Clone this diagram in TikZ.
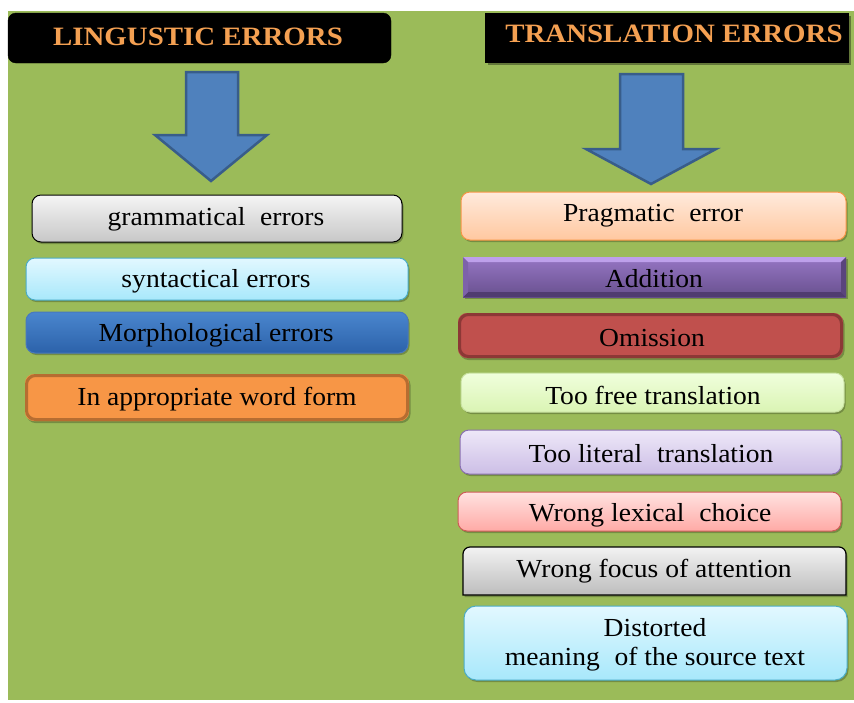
\documentclass[tikz,border=0pt]{standalone}
\usepackage{fontspec}
\setmainfont{Liberation Serif}
\newfontfamily\boxfont[FakeStretch=1.06]{Liberation Serif}
\newfontfamily\hdrfont[FakeStretch=1.09]{Liberation Serif}
\usetikzlibrary{shadows,shapes.arrows}
\definecolor{bggreen}{HTML}{9BBB59}
\definecolor{hdrorange}{HTML}{F4A052}
\definecolor{arrowfill}{HTML}{4F81BD}
\definecolor{arrowline}{HTML}{385D8A}
\definecolor{morphtop}{RGB}{74,134,206}
\definecolor{morphbot}{RGB}{44,98,170}
\definecolor{morphline}{RGB}{72,120,190}
\definecolor{orfill}{RGB}{247,150,70}
\definecolor{orline}{RGB}{182,109,49}
\definecolor{pragtop}{RGB}{255,234,220}
\definecolor{pragbot}{RGB}{255,200,160}
\definecolor{addtop}{RGB}{150,118,196}
\definecolor{addbot}{RGB}{104,80,142}
\definecolor{addhi}{RGB}{190,160,235}
\definecolor{addlo}{RGB}{80,60,112}
\definecolor{addl}{RGB}{125,98,170}
\definecolor{addr}{RGB}{90,68,125}
\definecolor{omfill}{RGB}{192,80,77}
\definecolor{omline}{RGB}{140,56,54}
\definecolor{freetop}{RGB}{240,255,220}
\definecolor{freebot}{RGB}{218,244,180}
\definecolor{freeline}{RGB}{200,225,160}
\definecolor{littop}{RGB}{238,232,248}
\definecolor{litbot}{RGB}{204,190,230}
\definecolor{litline}{RGB}{138,112,176}
\definecolor{lextop}{RGB}{255,226,224}
\definecolor{lexbot}{RGB}{255,170,166}
\definecolor{lexline}{RGB}{205,92,88}
\definecolor{cyantop}{RGB}{226,248,255}
\definecolor{cyanbot}{RGB}{168,232,251}
\definecolor{cyanline}{RGB}{75,172,198}
\tikzset{
  x=1pt, y=-1pt,
  hdrbox/.style={fill=black, draw=black},
  hdrtext/.style={font=\hdrfont\fontsize{26.5}{28}\selectfont\bfseries, text=hdrorange, inner sep=0pt},
  bigarrow/.style={fill=arrowfill, draw=arrowline, line width=2.5pt, line join=miter},
  softshadow/.style={drop shadow={shadow xshift=1.5pt, shadow yshift=-2pt, opacity=0.35, fill=black!70!bggreen}},
  errbox/.style={rounded corners=9pt, line width=1pt, softshadow},
  errtext/.style={font=\boxfont\fontsize{26}{29}\selectfont, inner sep=0pt, align=center, text=black},
}
\begin{document}
\begin{tikzpicture}
\useasboundingbox (0,0) rectangle (854,702);
\fill[white] (0,0) rectangle (854,702);
\fill[bggreen] (8,11) rectangle (854,700);

% headers
\fill[hdrbox, rounded corners=8pt] (8,13) rectangle (391,63);
\node[hdrtext] (h1) at (198,37) {LINGUSTIC ERRORS};
\fill[black!60!bggreen, opacity=0.6] (488,16) rectangle (851,65);
\fill[hdrbox] (485,13) rectangle (848,62);
\node[hdrtext] (h2) at (674,34) {TRANSLATION ERRORS};

% arrows
\draw[bigarrow] (186,72) -- (238,72) -- (238,135) -- (267,135) -- (211,181) -- (155,135) -- (186,135) -- cycle;
\draw[bigarrow] (620,74) -- (683,74) -- (683,149) -- (716,149) -- (651,184) -- (586,149) -- (620,149) -- cycle;

% left boxes
\shade[errbox, top color=black!4, bottom color=black!22] (32,195) rectangle (402,242);
\draw[black, line width=1pt, rounded corners=9pt] (32,195) rectangle (402,242);
\node[errtext] (g1) at (216,219) {grammatical\hspace{0.3em} errors};

\shade[errbox, top color=cyantop, bottom color=cyanbot] (26,258) rectangle (408,300);
\draw[draw=cyanline, line width=1pt, rounded corners=9pt] (26,258) rectangle (408,300);
\node[errtext] (g2) at (216,281) {syntactical errors};

\shade[errbox, top color=morphtop, bottom color=morphbot] (26,312) rectangle (408,353);
\draw[draw=morphline, line width=1pt, rounded corners=9pt] (26,312) rectangle (408,353);
\node[errtext] (g3) at (216,335) {Morphological errors};

\fill[errbox, fill=orfill] (25,374) rectangle (409,421);
\draw[draw=orline, line width=3pt, rounded corners=9pt] (26.5,375.5) rectangle (407.5,419.5);
\node[errtext] (g4) at (217,399) {In appropriate word form};

% right boxes
\shade[errbox, top color=pragtop, bottom color=pragbot] (461,192) rectangle (846,240);
\draw[draw=orfill, line width=1pt, rounded corners=9pt] (461,192) rectangle (846,240);
\node[errtext] (t1) at (653,216) {Pragmatic\hspace{0.3em} error};

\shade[softshadow, top color=addtop, bottom color=addbot] (463,257) rectangle (846,297);
\fill[addhi] (463,257) -- (846,257) -- (841,262) -- (468,262) -- cycle;
\fill[addlo] (463,297) -- (846,297) -- (841,292) -- (468,292) -- cycle;
\fill[addl] (463,257) -- (468,262) -- (468,292) -- (463,297) -- cycle;
\fill[addr] (846,257) -- (841,262) -- (841,292) -- (846,297) -- cycle;
\node[errtext] (t2) at (654,279) {Addition};

\fill[errbox, fill=omfill] (458,313) rectangle (843,358);
\draw[draw=omline, line width=3pt, rounded corners=9pt] (459.5,314.5) rectangle (841.5,356.5);
\node[errtext] (t3) at (652,338) {Omission};

\shade[errbox, top color=freetop, bottom color=freebot] (461,373) rectangle (844,412);
\draw[draw=freeline, line width=1pt, rounded corners=9pt] (461,373) rectangle (844,412);
\node[errtext] (t4) at (653,395) {Too free translation};

\shade[errbox, top color=littop, bottom color=litbot] (460,430) rectangle (841,474);
\draw[draw=litline, line width=1pt, rounded corners=9pt] (460,430) rectangle (841,474);
\node[errtext] (t5) at (651,454) {Too literal\hspace{0.3em} translation};

\shade[errbox, top color=lextop, bottom color=lexbot] (458,492) rectangle (841,531);
\draw[draw=lexline, line width=1pt, rounded corners=9pt] (458,492) rectangle (841,531);
\node[errtext] (t6) at (650,515) {Wrong lexical\hspace{0.3em} choice};

\shade[softshadow, top color=black!5, bottom color=black!26] (463,595) -- (463,554) [rounded corners=7pt] -- (463,547) -- (846,547) [sharp corners] -- (846,595) -- cycle;
\draw[black, line width=1.2pt] (463,595) -- (463,554) [rounded corners=7pt] -- (463,547) -- (846,547) [sharp corners] -- (846,595) -- cycle;
\node[errtext] (t7) at (654,571) {Wrong focus of attention};

\shade[errbox, rounded corners=12pt, top color=cyantop, bottom color=cyanbot] (464,606) rectangle (847,680);
\draw[draw=cyanline, line width=1pt, rounded corners=12pt] (464,606) rectangle (847,680);
\node[errtext] (t8) at (655,645) {Distorted\\meaning\hspace{0.3em} of the source text};
\end{tikzpicture}
\end{document}
